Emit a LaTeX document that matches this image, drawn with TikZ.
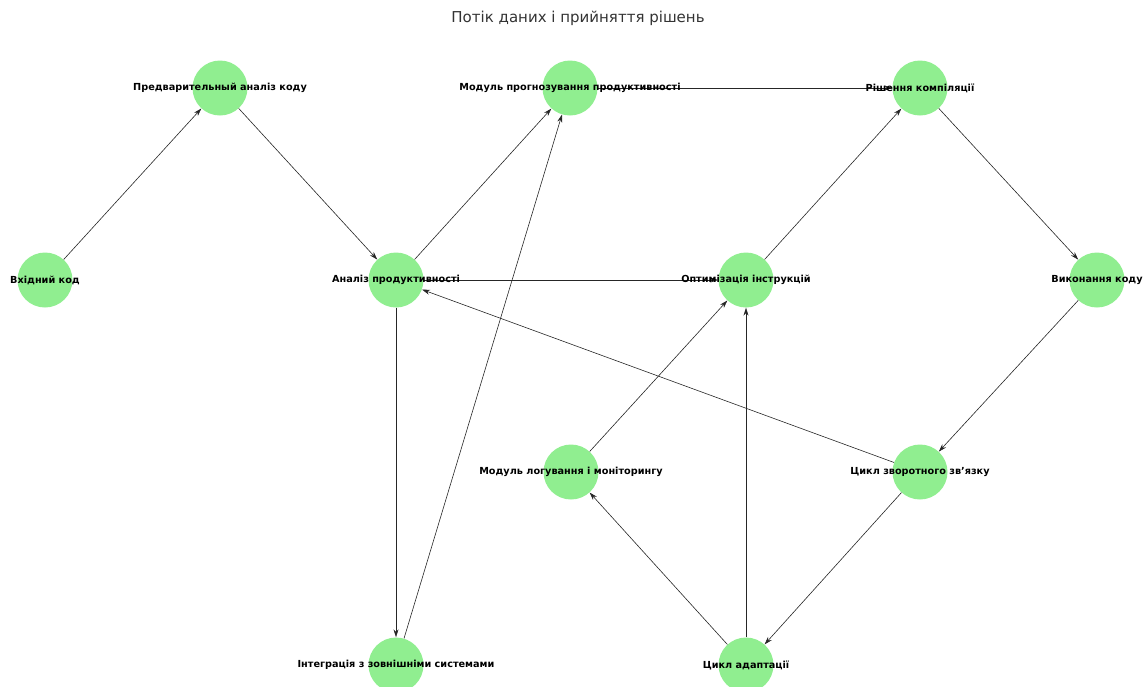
\documentclass[tikz,border=0pt]{standalone}
\usepackage{fontspec}
\setmainfont{DejaVu Sans}
\usetikzlibrary{arrows.meta}
\definecolor{nodegreen}{RGB}{144,238,144}
\begin{document}
\begin{tikzpicture}[x=1pt,y=-1pt,
  dot/.style={circle,fill=nodegreen,draw=none,minimum size=55pt,inner sep=0pt},
  lbl/.style={font=\bfseries\fontsize{9.7}{11}\selectfont,inner sep=0pt},
  edge/.style={draw=black!85,line width=0.6pt,-{Stealth[length=8pt,width=5pt]}}]
\useasboundingbox (0,0) rectangle (1143,686);
\clip (0,0) rectangle (1143,686);
\node[font=\fontsize{15}{18}\selectfont,text=black!80] (title) at (578,18) {Потік даних і прийняття рішень};
% nodes
\node[dot] (V) at (45,280) {};
\node[dot] (P) at (220,88) {};
\node[dot] (A) at (396,280) {};
\node[dot] (M) at (570,88) {};
\node[dot] (R) at (920,88) {};
\node[dot] (O) at (746,280) {};
\node[dot] (E) at (1097,280) {};
\node[dot] (L) at (571,472) {};
\node[dot] (F) at (920,472) {};
\node[dot] (I) at (396,665) {};
\node[dot] (C) at (746,665) {};
% edges
\draw[edge] (V) -- (P);
\draw[edge] (P) -- (A);
\draw[edge] (A) -- (M);
\draw[edge] (M) -- (R);
\draw[edge] (A) -- (O);
\draw[edge] (O) -- (R);
\draw[edge] (R) -- (E);
\draw[edge] (E) -- (F);
\draw[edge] (F) -- (A);
\draw[edge] (F) -- (C);
\draw[edge] (C) -- (L);
\draw[edge] (C) -- (O);
\draw[edge] (L) -- (O);
\draw[edge] (A) -- (I);
\draw[edge] (I) -- (M);
% labels
\node[lbl] (tV) at (V) {Вхідний код};
\node[lbl] (tP) at (P) {Предварительный аналіз коду};
\node[lbl] (tA) at (A) {Аналіз продуктивності};
\node[lbl] (tM) at (M) {Модуль прогнозування продуктивності};
\node[lbl] (tR) at (R) {Рішення компіляції};
\node[lbl] (tO) at (O) {Оптимізація інструкцій};
\node[lbl] (tE) at (E) {Виконання коду};
\node[lbl] (tL) at (L) {Модуль логування і моніторингу};
\node[lbl] (tF) at (F) {Цикл зворотного зв'язку};
\node[lbl] (tI) at (I) {Інтеграція з зовнішніми системами};
\node[lbl] (tC) at (C) {Цикл адаптації};
\end{tikzpicture}
\end{document}
